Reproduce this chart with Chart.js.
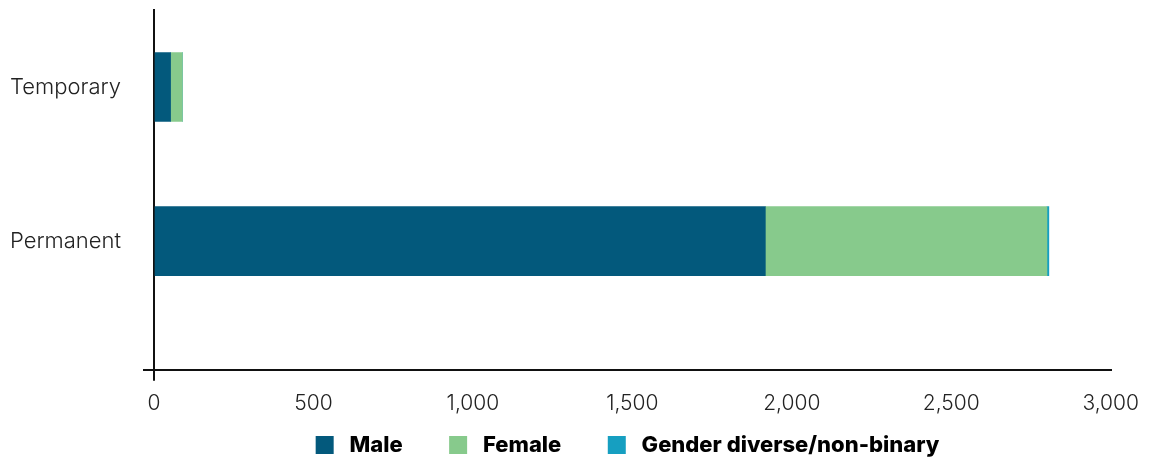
<!DOCTYPE html>
<html>
<head>
<meta charset="utf-8">
<script src="https://cdn.jsdelivr.net/npm/chart.js@4"></script>
<style>
    html, body { margin: 0; padding: 0; background: #fff; }
    #wrap { width: 1149px; height: 466px; position: relative; }
</style>
</head>
<body>
<div id="wrap"><canvas id="employmentChart"></canvas></div>
<script>
// Employment type by gender
const categories = ['Temporary', 'Permanent'];
const maleValues = [52, 1917];
const femaleValues = [37, 883];
const diverseValues = [0, 6];
const xTicks = [0, 500, 1000, 1500, 2000, 2500, 3000];

const COLORS = {
    male: '#03597c',
    female: '#87ca8c',
    diverse: '#169fc1',
    axis: '#111111',
    text: '#222222'
};

// bars sit on a numeric index axis so the empty space under "Permanent" can be kept
function toPoints(values) {
    return values.map((v, i) => ({ x: v, y: i }));
}

const ctx = document.getElementById('employmentChart');

new Chart(ctx, {
    type: 'bar',
    data: {
        datasets: [
            { label: 'Male', data: toPoints(maleValues), backgroundColor: COLORS.male },
            { label: 'Female', data: toPoints(femaleValues), backgroundColor: COLORS.female },
            { label: 'Gender diverse/non-binary', data: toPoints(diverseValues), backgroundColor: COLORS.diverse }
        ]
    },
    options: {
        indexAxis: 'y',
        responsive: true,
        maintainAspectRatio: false,
        animation: false,
        barThickness: 69,
        layout: {
            padding: { top: 10, left: 7, right: 34, bottom: 0 }
        },
        plugins: {
            legend: {
                position: 'bottom',
                fullSize: false,
                labels: {
                    boxWidth: 18,
                    boxHeight: 18,
                    padding: 8,
                    color: '#000',
                    font: { family: 'Inter', size: 22, weight: 800 },
                    generateLabels: (chart) => {
                        const items = Chart.defaults.plugins.legend.labels.generateLabels(chart);
                        // wider gaps than the defaults give
                        items.forEach((it, i) => {
                            it.text = ' ' + it.text + (i < items.length - 1 ? '        ' : '  ');
                        });
                        return items;
                    }
                }
            },
            tooltip: { enabled: false }
        },
        scales: {
            x: {
                type: 'linear',
                stacked: true,
                min: 0,
                max: 3000,
                afterBuildTicks: (scale) => {
                    scale.ticks = xTicks.map(v => ({ value: v }));
                },
                border: { display: true, color: COLORS.axis, width: 2 },
                grid: {
                    drawOnChartArea: false,
                    drawTicks: true,
                    tickLength: 11,
                    lineWidth: 2,
                    color: (c) => (c.tick && c.tick.value === 0 ? COLORS.axis : 'rgba(0,0,0,0)')
                },
                ticks: {
                    padding: 10,
                    color: COLORS.text,
                    font: { family: 'Inter', size: 21, weight: 300 },
                    callback: (value) => value.toLocaleString('en-US')
                }
            },
            y: {
                type: 'linear',
                stacked: true,
                reverse: true,
                offset: false,
                min: -0.5,
                max: 1.835,
                afterBuildTicks: (scale) => {
                    scale.ticks = categories.map((_, i) => ({ value: i }));
                    scale.ticks.push({ value: scale.max });
                },
                afterFit: (scale) => {
                    scale.width = 147;
                    scale.paddingTop = 0;
                    scale.paddingBottom = 0;
                },
                border: { display: true, color: COLORS.axis, width: 2 },
                grid: {
                    offset: false,
                    drawOnChartArea: false,
                    drawTicks: true,
                    tickLength: 11,
                    lineWidth: 2,
                    color: (c) => (c.tick && c.tick.value > categories.length - 1 ? COLORS.axis : 'rgba(0,0,0,0)')
                },
                ticks: {
                    padding: 22,
                    color: COLORS.text,
                    font: { family: 'Inter', size: 22, weight: 300 },
                    callback: (value) => (categories[value] !== undefined ? categories[value] : '')
                }
            }
        }
    }
});
</script>
</body>
</html>
